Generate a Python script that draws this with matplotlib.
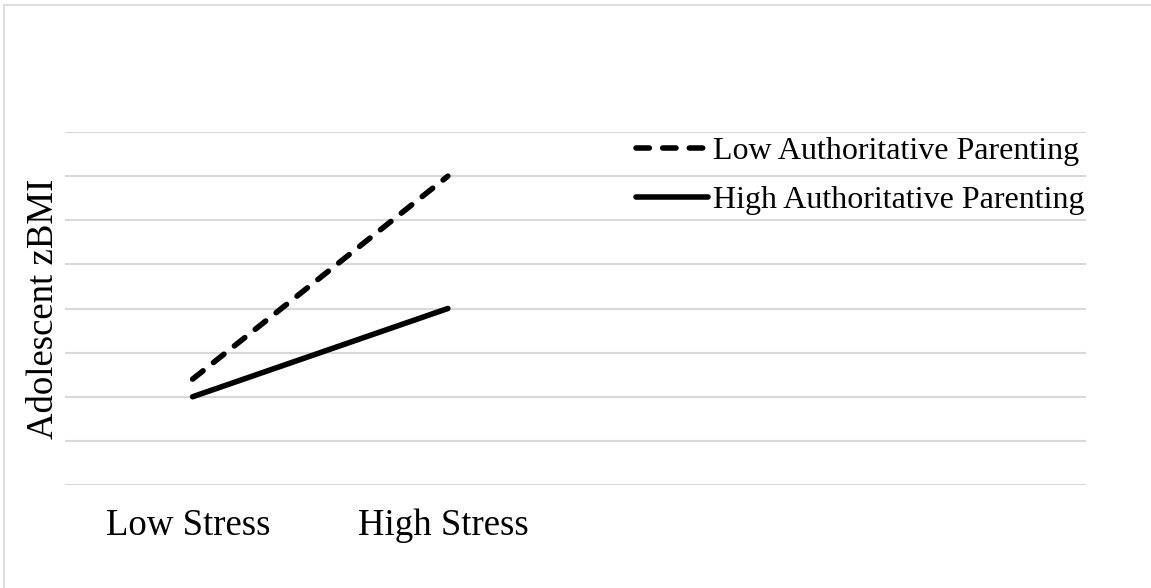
import matplotlib
matplotlib.use("Agg")
import matplotlib.pyplot as plt
from matplotlib.lines import Line2D
from matplotlib.transforms import ScaledTranslation

# Data
categories = ["Low Stress", "High Stress"]
low_auth = [2.4, 7.0]    # Low Authoritative Parenting (dashed)
high_auth = [2.0, 4.0]   # High Authoritative Parenting (solid)
series_names = ["Low Authoritative Parenting", "High Authoritative Parenting"]
grid_values = list(range(0, 9))
y_label = "Adolescent zBMI"

plt.rcParams['font.family'] = ['Liberation Serif', 'DejaVu Serif']

W, H = 1151, 588
fig = plt.figure(figsize=(W / 100, H / 100), dpi=100)
fig.patch.set_facecolor("white")

# outer light border (top & left visible)
fig.lines.append(Line2D([4 / W, 1.0], [1 - 5 / H, 1 - 5 / H], transform=fig.transFigure,
                        color="#d9d9d9", linewidth=1.2))
fig.lines.append(Line2D([4 / W, 4 / W], [0, 1 - 5 / H], transform=fig.transFigure,
                        color="#d9d9d9", linewidth=1.2))

ax = fig.add_axes([65 / W, 1 - 485 / H, 1021 / W, (485 - 132) / H])
x = list(range(len(categories)))

ax.plot(x, low_auth, color="black", linewidth=4.0, linestyle=(0, (2.4, 2.4)),
        dash_capstyle="round", solid_capstyle="round", label=series_names[0])
ax.plot(x, high_auth, color="black", linewidth=4.0, solid_capstyle="round",
        label=series_names[1])

ax.set_xlim(-0.5, 3.5)
ax.set_ylim(grid_values[0], grid_values[-1])
ax.set_yticks(grid_values)
ax.set_yticklabels([])
ax.set_xticks(x)
ax.set_xticklabels(categories, fontsize=26.5)
ax.tick_params(axis="both", length=0)
ax.tick_params(axis="x", pad=17)
offset = ScaledTranslation(-4 / 100, 0, fig.dpi_scale_trans)
for lbl in ax.get_xticklabels():
    lbl.set_transform(lbl.get_transform() + offset)
ax.grid(axis="y", color="#d9d9d9", linewidth=1.5)
ax.set_axisbelow(True)
for s in ax.spines.values():
    s.set_visible(False)

fig.text(44 / W, 1 - 309 / H, y_label, rotation=90, ha="center", va="center",
         fontsize=26.5)

leg = ax.legend(loc="upper left", bbox_to_anchor=(636 / W, 1 - 137 / H),
                bbox_transform=fig.transFigure, frameon=False, fontsize=23,
                handlelength=2.25, handletextpad=0.17, borderpad=0,
                borderaxespad=0, labelspacing=0.6)

fig.savefig("out.png", dpi=100, facecolor="white")
